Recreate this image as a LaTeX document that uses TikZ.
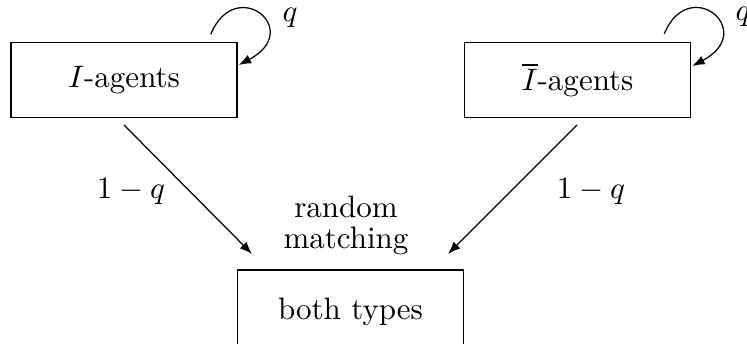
\documentclass[tikz,border=0pt]{standalone}
\usetikzlibrary{arrows.meta}
\begin{document}
\begin{tikzpicture}[x=0.3225pt,y=-0.3225pt,
  box/.style={draw,line width=0.45pt,minimum width=72.9pt,minimum height=24.2pt,inner sep=0pt},
  arr/.style={line width=0.4pt,-{Latex[length=4pt,width=3pt]}},
  lbl/.style={inner sep=0pt}]
\clip (0,0) rectangle (747,344);
\useasboundingbox (0,0) rectangle (747,344);
\node[box] (I) at (124,80) {$I$-agents};
\node[box] (Ib) at (577.5,80) {$\overline{I}$-agents};
\node[box,minimum height=27pt] (B) at (350.5,312) {both types};
\node[lbl] (Iq) at (290,18) {$q$};
\node[lbl] (Ibq) at (743,17) {$q$};
\node[lbl] (l1) at (131,192) {$1-q$};
\node[lbl] (l2) at (591,192) {$1-q$};
\node[lbl,align=center] (rm) at (346,225) {random\\[-2pt]matching};
\coordinate (s1) at (124,125);
\coordinate (t1) at (252,254);
\coordinate (s2) at (577,125);
\coordinate (t2) at (448,254);
\draw[arr] (s1) -- (t1);
\draw[arr] (s2) -- (t2);
\draw[arr] ([shift={(-27,-7.5)}]I.north east) .. controls +(25,-60) and +(66,-35) .. ([shift={(1,-15)}]I.east);
\draw[arr] ([shift={(-27,-8)}]Ib.north east) .. controls +(25,-60) and +(66,-35) .. ([shift={(1,-14)}]Ib.east);
\end{tikzpicture}
\end{document}
